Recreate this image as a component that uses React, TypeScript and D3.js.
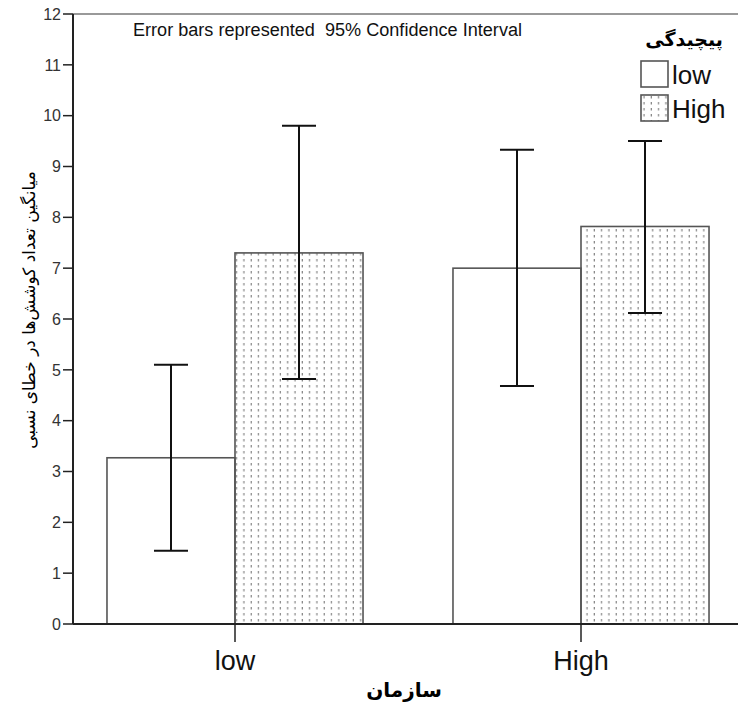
import React from 'react';
import * as d3 from 'd3';

// group (سازمان) categories and series (پیچیدگی)
const groups = ['low', 'High'];
const seriesKeys = ['low', 'High'];

// means and 95% CI, one row per group, one entry per series
const lowMeans = [3.27, 7.3];
const lowCiLower = [1.44, 4.82];
const lowCiUpper = [5.1, 9.8];
const highMeans = [7.0, 7.82];
const highCiLower = [4.68, 6.12];
const highCiUpper = [9.33, 9.5];

const yTicks = [0, 1, 2, 3, 4, 5, 6, 7, 8, 9, 10, 11, 12];

const rows = [
  { group: groups[0], means: lowMeans, lo: lowCiLower, hi: lowCiUpper },
  { group: groups[1], means: highMeans, lo: highCiLower, hi: highCiUpper },
];

const W = 738;
const H = 704;
const left = 73;
const top = 14;
const bottom = 624;

export default function App() {
  const y = d3.scaleLinear().domain([0, 12]).range([bottom, top]);
  const x0 = d3.scaleBand().domain(groups).range([62, 754]).paddingInner(0.26).paddingOuter(0.13);
  const x1 = d3.scaleBand().domain(seriesKeys).range([0, x0.bandwidth()]);
  const font = 'Arial, "Liberation Sans", sans-serif';

  return (
    <svg width={W} height={H} style={{ position: 'absolute', left: 0, top: 0, background: '#fff' }} fontFamily={font}>
      <defs>
        <pattern id="dots" patternUnits="userSpaceOnUse" width="7.3" height="6" x="0" y="0">
          <line x1="3" y1="1" x2="3" y2="3.5" stroke="#7a7a7a" strokeWidth="1.1" />
        </pattern>
      </defs>
      <rect x={0} y={0} width={W} height={H} fill="#fff" />

      {/* frame */}
      <line x1={left} y1={top} x2={W} y2={top} stroke="#999" strokeWidth={2} />

      <text x={133} y={36} fontSize={18} fill="#111" style={{ whiteSpace: 'pre' }} textLength={389} lengthAdjust="spacingAndGlyphs">
        {'Error bars represented  95% Confidence Interval'}
      </text>

      {/* bars */}
      {rows.map((r) =>
        seriesKeys.map((k, i) => {
          const bx = (x0(r.group) as number) + (x1(k) as number);
          return (
            <rect
              key={r.group + k}
              x={bx}
              y={y(r.means[i])}
              width={x1.bandwidth()}
              height={bottom - y(r.means[i])}
              fill={i === 0 ? '#fff' : 'url(#dots)'}
              stroke="#555"
              strokeWidth={1.6}
            />
          );
        })
      )}

      {/* error bars */}
      {rows.map((r) =>
        seriesKeys.map((k, i) => {
          const cx = (x0(r.group) as number) + (x1(k) as number) + x1.bandwidth() / 2;
          return (
            <g key={'e' + r.group + k} stroke="#111" strokeWidth={2}>
              <line x1={cx} x2={cx} y1={y(r.hi[i])} y2={y(r.lo[i])} />
              <line x1={cx - 17} x2={cx + 17} y1={y(r.hi[i])} y2={y(r.hi[i])} />
              <line x1={cx - 17} x2={cx + 17} y1={y(r.lo[i])} y2={y(r.lo[i])} />
            </g>
          );
        })
      )}

      {/* y axis */}
      <line x1={left} y1={top} x2={left} y2={bottom} stroke="#222" strokeWidth={2} />
      {yTicks.map((t) => (
        <g key={t}>
          <line x1={left - 10} x2={left} y1={y(t)} y2={y(t)} stroke="#222" strokeWidth={1.5} />
          <text x={left - 12} y={y(t)} dy="0.36em" textAnchor="end" fontSize={16} fill="#333">
            {t}
          </text>
        </g>
      ))}

      {/* x axis */}
      <line x1={left} y1={bottom} x2={W} y2={bottom} stroke="#222" strokeWidth={2} />
      {groups.map((g) => {
        const cx = (x0(g) as number) + x0.bandwidth() / 2;
        return (
          <g key={g}>
            <line x1={cx} x2={cx} y1={bottom} y2={bottom + 18} stroke="#222" strokeWidth={1.5} />
            <text x={cx} y={670} textAnchor="middle" fontSize={27} fill="#111">
              {g}
            </text>
          </g>
        );
      })}

      <text x={404} y={697} textAnchor="middle" fontSize={20} fontWeight="bold" fontFamily='"DejaVu Sans", sans-serif' direction="rtl">
        سازمان
      </text>

      <text
        transform={`translate(35, ${310}) rotate(-90)`}
        textAnchor="middle"
        fontSize={17}
        fontFamily='"DejaVu Sans", sans-serif'
        direction="rtl"
      >
        میانگین تعداد کوشش‌ها در خطای نسبی
      </text>

      {/* legend */}
      <text x={684} y={46} textAnchor="middle" fontSize={19} fontWeight="bold" fontFamily='"DejaVu Sans", sans-serif' direction="rtl">
        پیچیدگی
      </text>
      {seriesKeys.map((k, i) => (
        <g key={'l' + k} transform={`translate(641, ${61 + i * 34})`}>
          <rect x={0} y={0} width={27} height={26} fill={i === 0 ? '#fff' : 'url(#dots)'} stroke="#555" strokeWidth={1.6} />
          <text x={31} y={23} fontSize={26} fill="#111">
            {k}
          </text>
        </g>
      ))}
    </svg>
  );
}
